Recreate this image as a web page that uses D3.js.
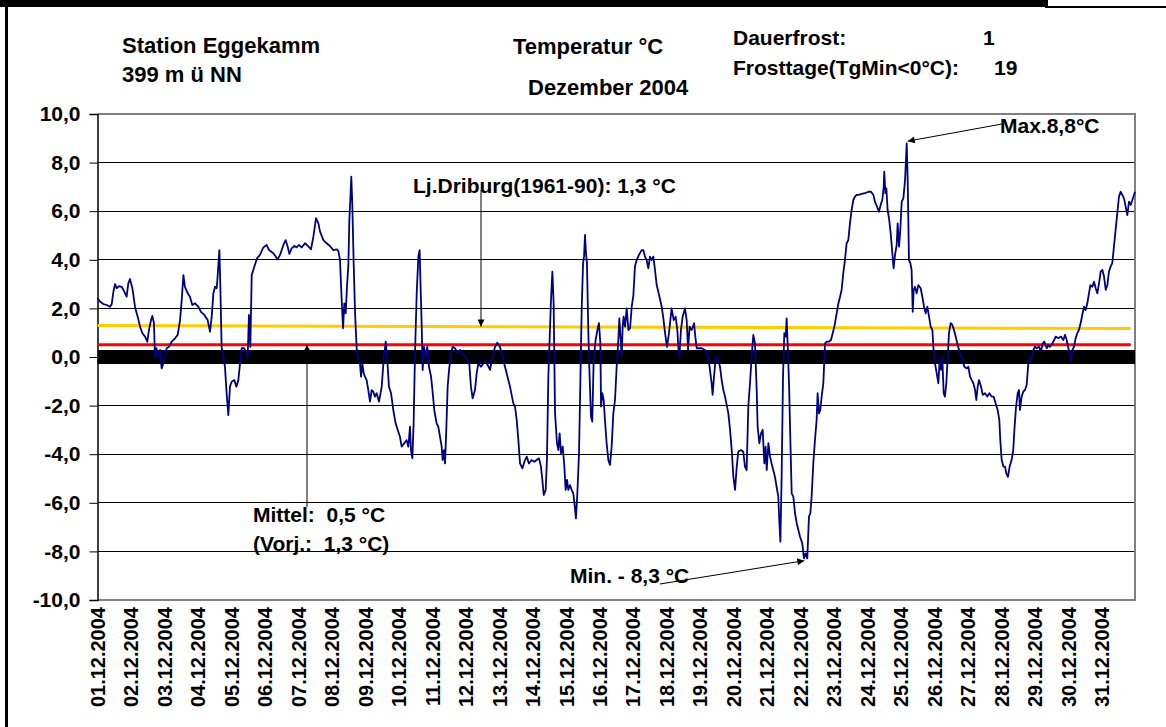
<!DOCTYPE html>
<html><head><meta charset="utf-8">
<script src="https://cdn.jsdelivr.net/npm/d3@7/dist/d3.min.js"></script>
<style>
body{margin:0;background:#fff;}
svg text{font-family:"Liberation Sans",Arial,sans-serif;font-weight:bold;fill:#000;}
</style></head><body>
<svg id="c" width="1166" height="727"></svg>
<script>
// ---------- DATA ----------
const dayLabels = ["01.12.2004","02.12.2004","03.12.2004","04.12.2004","05.12.2004","06.12.2004","07.12.2004","08.12.2004","09.12.2004","10.12.2004","11.12.2004","12.12.2004","13.12.2004","14.12.2004","15.12.2004","16.12.2004","17.12.2004","18.12.2004","19.12.2004","20.12.2004","21.12.2004","22.12.2004","23.12.2004","24.12.2004","25.12.2004","26.12.2004","27.12.2004","28.12.2004","29.12.2004","30.12.2004","31.12.2004"];
const yTicks = [-10,-8,-6,-4,-2,0,2,4,6,8,10];
const yTickLabels = ["-10,0","-8,0","-6,0","-4,0","-2,0","0,0","2,0","4,0","6,0","8,0","10,0"];
// hourly temperature trace: [hours since 01.12.2004 00:00, °C]
const tempSeries = [
[0,2.42],[1.8,2.28],[4.2,2.18],[6.6,2.14],[9.0,2.07],[10.2,2.18],[11.4,2.69],[12.6,3.0],[13.7,2.83],[15.4,2.92],[17.3,2.89],[19.2,2.69],[20.9,2.48],[22.1,3.03],[23.3,3.21],[25.0,2.83],[26.9,2.07],[28.8,1.66],[30.5,1.25],[32.2,0.98],[34.1,0.84],[35.7,0.63],[36.9,1.11],[38.4,1.52],[39.3,1.69],[40.5,1.39],[41.2,0.01],[42.2,0.36],[43.6,0],[44.8,0.29],[46.0,-0.47],[47.2,-0.26],[48.4,0],[49.6,0.36],[51.3,0.42],[53.2,0.63],[55.6,0.77],[57.5,0.91],[59.2,1.52],[60.4,2.35],[61.6,3.37],[62.7,2.89],[64.7,2.62],[66.3,2.48],[68.0,2.14],[69.9,2.21],[72.3,2.07],[74.2,1.86],[76.6,1.73],[79.0,1.52],[80.7,1.04],[81.9,1.66],[83.1,2.62],[84.3,2.89],[85.5,2.83],[86.2,3.37],[87.4,4.40],[88.1,2.89],[89.0,0.42],[90.2,0.01],[91.4,-0.40],[92.6,-1.49],[93.8,-2.39],[95.0,-1.22],[96.2,-1.02],[98.1,-0.95],[99.6,-1.22],[101.0,-0.95],[102.2,-0.26],[103.4,0.36],[105.1,0.36],[106.5,0.22],[107.7,0],[108.6,1.73],[109.6,0.42],[110.6,3.37],[112.5,3.72],[114.4,4.06],[116.5,4.20],[118.9,4.51],[121.3,4.61],[123.0,4.40],[126.1,4.27],[129.2,4.02],[130.9,4.20],[133.3,4.61],[134.9,4.81],[136.4,4.54],[137.6,4.24],[139.2,4.47],[141.2,4.57],[142.8,4.51],[144.5,4.61],[146.4,4.51],
[148.8,4.68],[151.2,4.55],[153.1,4.43],[154.8,4.95],[156.7,5.71],[158.4,5.50],[159.6,5.16],[162.0,4.81],[164.3,4.68],[166.7,4.57],[169.1,4.40],[171.5,4.43],[172.7,4.37],[173.9,3.99],[175.1,2.35],[176.1,1.18],[177.0,2.21],[178.0,1.80],[178.9,2.89],[179.9,3.79],[180.6,5.64],[181.3,6.46],[182.0,7.42],[182.7,6.33],[183.7,3.86],[184.7,1.80],[185.9,0.29],[187.0,-0.12],[188.2,-0.26],[189.0,-0.81],[189.9,-0.26],[190.9,-0.67],[191.8,-0.81],[193.0,-0.95],[194.2,-1.36],[195.4,-1.84],[196.6,-1.36],[197.8,-1.43],[199.0,-1.63],[200.2,-1.49],[201.9,-1.84],[203.8,-1.22],[205.2,-0.12],[206.7,0.63],[207.8,-0.12],[209.0,-1.22],[210.5,-1.49],[212.1,-2.18],[213.8,-2.73],[215.3,-3.00],[216.9,-3.28],[218.1,-3.69],[220.0,-3.55],[221.7,-3.42],[222.9,-3.69],[224.1,-2.87],[224.8,-3.83],[225.8,-4.17],[226.7,-2.73],[227.7,0.15],[228.9,2.62],[230.1,4.13],[231.0,4.40],[231.5,3.30],[232.5,1.25],[233.2,-0.53],[234.1,0.42],[235.3,0],[236.5,0.42],[237.7,-0.40],[239.2,-0.81],[240.4,-1.49],[241.5,-2.18],[243.2,-2.73],[244.4,-2.87],[245.6,-3.28],[246.8,-3.69],[247.5,-4.24],[248.5,-3.83],[249.2,-4.38],[250.2,-2.87],[251.1,-1.22],[252.1,-0.53],[253.5,0.15],[254.7,0.42],[256.4,0.36],[258.3,0.15],[260.0,0.29],[261.6,0.15],[263.5,0],[265.2,-0.12],[266.6,-0.26],[267.8,-1.22],[269.0,-1.70],[270.7,-1.36],[271.9,-0.67],[273.1,-0.26],[275.0,-0.40],[276.7,-0.26],[278.4,-0.19],[279.8,-0.33],[281.5,-0.53],[283.1,0],[285.1,0.42],[286.7,0.59],[288.6,0.42],[291.0,-0.12],[293.4,-0.67],[295.8,-1.22],[298.2,-1.91],
[299.4,-2.04],[300.6,-2.59],[301.8,-3.42],[303.0,-4.38],[304.7,-4.58],[306.1,-4.31],[307.8,-4.10],[309.4,-4.38],[311.3,-4.24],[313.3,-4.31],[314.9,-4.24],[316.6,-4.17],[318.0,-4.51],[319.0,-5.06],[320.0,-5.68],[321.4,-5.47],[322.3,-4.24],[323.3,-0.81],[324.3,0.84],[325.2,2.35],[326.2,3.51],[327.1,2.21],[328.1,-2.32],[329.5,-3.55],[330.5,-3.83],[331.4,-3.14],[332.4,-3.96],[333.6,-3.69],[334.8,-4.51],[335.7,-5.47],[336.7,-5.06],[337.6,-5.47],[338.8,-5.27],[340.0,-5.47],[341.2,-5.61],[342.4,-6.23],[343.1,-6.64],[344.1,-5.61],[345.3,-3.96],[346.2,-1.22],[347.2,1.93],[348.2,3.86],[348.9,4.13],[349.6,5.02],[350.3,4.27],[351.0,3.86],[352.0,0.98],[352.9,-0.81],[353.9,-2.46],[354.8,-2.66],[355.8,-0.12],[357.2,0.70],[358.7,1.18],[359.6,1.39],[360.6,0.56],[361.1,-2.04],[362.0,-1.49],[363.0,-1.77],[363.9,-2.59],[365.1,-3.55],[366.3,-4.24],[367.5,-4.44],[368.7,-3.69],[369.9,-2.32],[371.1,-1.77],[372.3,-0.40],[373.5,0.70],[374.2,1.59],[374.9,0.98],[375.9,0],[376.6,1.25],[377.3,1.66],[378.3,1.25],[379.5,2.0],[380.7,1.11],[381.9,1.18],[383.1,2.07],[384.3,2.55],[385.4,3.72],[386.6,3.99],[388.3,4.20],[390.2,4.40],[391.4,4.40],[392.6,4.13],[393.8,3.99],[395.0,3.65],[396.2,4.13],[397.4,3.99],[398.6,4.13],[399.8,3.58],[401.0,2.96],[402.7,2.55],[404.6,2.07],[405.8,1.59],[407.0,0.98],[408.4,0.42],[409.8,0.98],[410.8,1.52],[411.7,2.0],[413.2,1.52],[414.6,1.66],[415.8,1.11],[416.5,0.42],[417.2,-0.05],[418.4,1.11],[419.6,1.66],[421.3,2.0],[422.5,1.52],[423.5,0.29],[424.6,1.25],[426.1,1.11],[427.8,1.39],[428.7,0.84],[429.7,0.36],[431.3,0.36],[433.3,0.36],[435.6,0.29],[438.0,0],[439.2,-0.53],[440.4,-1.08],[441.1,-1.56],[442.1,-0.81],[443.3,-0.05],[444.7,0.01],[446.4,-0.40],[447.6,-0.95],[448.8,-1.36],[450.0,-1.63],
[452.4,-2.32],[453.6,-3.0],[454.8,-3.83],[456.0,-4.93],[457.2,-5.47],[458.4,-4.51],[459.5,-3.90],[461.5,-3.83],[463.1,-3.90],[464.3,-4.51],[465.5,-4.65],[466.7,-2.04],[467.9,-1.08],[469.1,0.01],[470.3,0.91],[471.5,0.56],[472.7,-1.36],[473.4,-2.87],[474.6,-3.55],[475.8,-3.14],[477.0,-3.0],[478.2,-4.38],[479.1,-3.69],[479.9,-4.65],[481.1,-3.55],[482.3,-4.10],[483.4,-4.38],[484.6,-4.65],[485.8,-4.93],[487.0,-5.34],[488.2,-5.75],[488.9,-6.71],[489.7,-7.60],[490.6,-4.93],[491.6,-0.81],[492.5,0.98],[493.5,0.84],[494.2,1.59],[494.9,0.56],[495.9,-1.08],[496.8,-3.28],[497.8,-5.61],[499.0,-5.75],[500.2,-6.43],[501.4,-6.84],[502.6,-7.12],[503.8,-7.40],[505.4,-7.67],[506.6,-8.29],[507.8,-8.08],[509.0,-8.29],[510.2,-6.57],[511.2,-6.43],[512.1,-5.75],[513.3,-4.38],[514.5,-3.42],[515.7,-2.59],[516.4,-1.49],[517.4,-2.32],[518.3,-2.18],[519.3,-1.63],[520.5,-1.08],[521.7,0.56],[522.9,0.63],[524.6,0.63],[526.0,0.70],[527.2,0.98],[528.4,1.25],[530.1,1.80],[531.3,2.21],[532.5,2.48],[533.6,2.76],[534.8,3.44],[536.0,3.99],[537.2,4.68],[538.4,4.81],[539.6,5.50],[540.8,6.05],[542.0,6.46],[543.2,6.60],[544.4,6.67],[545.6,6.67],[548.0,6.71],[550.4,6.74],[552.8,6.80],[554.7,6.80],[556.4,6.67],[557.5,6.39],[559.0,6.19],[560.4,5.98],[561.6,6.26],[562.8,6.46],[563.8,7.01],[564.2,7.63],[565.0,6.74],[565.7,6.94],[566.6,6.05],[567.6,5.71],[568.8,5.09],[570.0,4.27],[570.9,3.65],[571.9,4.20],[573.1,4.61],[573.8,5.50],[574.8,4.54],[575.7,5.23],[576.7,6.39],[577.9,6.53],[579.1,7.28],[580.3,8.79],[581.0,7.28],[581.9,3.99],[582.9,3.86],[583.8,3.58],[584.6,1.86],[585.3,2.76],[586.2,2.89],[587.4,2.62],[588.6,2.96],[590.3,2.83],[591.5,2.48],[592.7,2.07],[593.9,1.80],[595.1,2.07],[596.3,1.66],[597.5,1.25],[598.7,1.11],[599.4,0.42],[600.6,-0.26],
[601.8,-0.67],[603.0,-1.08],[603.9,-0.12],[604.9,-0.53],[605.8,0.01],[606.8,-1.49],[607.7,-1.63],[608.7,-1.08],[609.7,0],[610.6,0.98],[611.8,1.39],[613.0,1.32],[614.2,1.11],[615.4,0.84],[616.6,0.56],[617.8,0.29],[619.2,0],[620.4,-0.12],[621.6,-0.40],[623.3,-0.47],[624.5,-0.40],[625.7,-0.81],[626.9,-0.95],[628.1,-1.08],[629.3,-1.36],[630.2,-1.77],[631.2,-1.22],[632.1,-0.95],[633.6,-1.22],[634.8,-1.56],[636.4,-1.49],[638.1,-1.63],[639.5,-1.49],[641.2,-1.63],[642.6,-1.63],[644.1,-1.91],[645.5,-2.18],[646.7,-2.59],[647.4,-3.42],[648.4,-4.24],[649.6,-4.51],[650.8,-4.51],[651.7,-4.79],[652.9,-4.93],[654.1,-4.51],[655.5,-4.24],[656.7,-3.83],[657.5,-3.0],[658.7,-2.04],[659.9,-1.49],[660.8,-1.36],[661.5,-2.18],[662.7,-1.63],[663.9,-1.42],[665.1,-1.36],[666.3,-1.15],[667.5,-0.26],[668.7,0],[669.9,-0.07],[671.1,0.29],[672.3,0.42],[673.5,0.36],[675.2,0.42],[676.6,0.22],[677.8,0.56],[679.0,0.63],[680.7,0.36],[681.8,0.49],[683.0,0.42],[684.7,0.56],[686.1,0.70],[687.1,0.84],[689.0,0.77],[690.9,0.84],[692.6,0.70],[693.8,0.91],[695.0,0.70],[696.2,0.36],[697.4,0.08],[698.1,-0.19],[699.1,0.29],[700.3,0.42],[701.4,0.77],[702.6,0.98],[703.8,1.11],[705.0,1.39],[706.2,1.73],[707.4,2.07],[708.6,1.93],[709.8,2.21],[711.0,2.62],[712.0,2.96],[713.4,2.89],[714.6,3.10],[715.8,2.83],[717.0,2.62],[718.2,3.03],[719.4,3.51],[720.6,3.58],[721.8,3.31],[723.0,2.76],[724.2,2.96],[725.3,3.51],[726.5,3.72],[727.7,3.86],[728.9,4.54],[730.1,5.23],[731.3,5.91],[732.5,6.60],[733.7,6.80],[734.9,6.67],[736.1,6.53],[737.3,6.19],[738.5,5.84],[739.7,6.39],[740.9,6.26],[742.1,6.46],[743.3,6.67],[744.0,6.80]
];
// reference lines: [start value, end value] over the month
const zeroLine = [0, 0];
const mittelLine = [0.5, 0.5];
const driburgLine = [1.3, 1.17];
const refEndHour = 741;
const monthHours = 744;
const maxPoint = [580.3, 8.8];
const minPoint = [509.0, -8.3];

// ---------- LAYOUT ----------
const svg = d3.select("#c");
const L = 97.5, R = 1135, T = 114, B = 600;
const x = d3.scaleLinear().domain([0, monthHours]).range([L, R]);
const y = d3.scaleLinear().domain([-10, 10]).range([B, T]);

// frame
svg.append("rect").attr("x",0).attr("y",0).attr("width",1047).attr("height",7).attr("fill","#000");
svg.append("rect").attr("x",1045).attr("y",0).attr("width",3).attr("height",8).attr("fill","#000");
svg.append("line").attr("x1",1048).attr("x2",1166).attr("y1",7).attr("y2",7).attr("stroke","#000").attr("stroke-width",2);
svg.append("rect").attr("x",5).attr("y",0).attr("width",3).attr("height",727).attr("fill","#000");

// gridlines
svg.append("g").selectAll("line").data(yTicks.filter(v => v > -10 && v < 10)).join("line")
  .attr("x1",L).attr("x2",R).attr("y1",d=>y(d)).attr("y2",d=>y(d))
  .attr("stroke","#000").attr("stroke-width",1).attr("shape-rendering","crispEdges");
// plot border (grey)
svg.append("path").attr("d",`M${L},${T}H${R}V${B}H${L}`).attr("fill","none")
  .attr("stroke","#808080").attr("stroke-width",2).attr("shape-rendering","crispEdges");

// y axis
const yAxis = d3.axisLeft(y).tickValues(yTicks).tickSize(8).tickPadding(9)
  .tickFormat((d,i) => yTickLabels[i]);
const ya = svg.append("g").attr("transform",`translate(${L},0)`).call(yAxis);
ya.select(".domain").attr("stroke","#000").attr("stroke-width",1.5);
ya.selectAll(".tick line").attr("stroke","#000");
ya.selectAll(".tick text").attr("font-size","21px").attr("font-family","Liberation Sans, Arial, sans-serif").attr("font-weight","bold").attr("fill","#000");

// x labels (category every 24 h)
const xa = svg.append("g");
xa.selectAll("text").data(dayLabels).join("text")
  .attr("transform",(d,i)=>`translate(${x(i*24)+7.5},${B+7}) rotate(-90)`)
  .attr("text-anchor","end").attr("font-size","20px").text(d=>d);

// reference lines
const refLine = (vals, end, color, w) => svg.append("line")
  .attr("x1",x(0)).attr("x2",x(end)).attr("y1",y(vals[0])).attr("y2",y(vals[1]))
  .attr("stroke",color).attr("stroke-width",w);
refLine(zeroLine, monthHours, "#000", 14);
refLine(mittelLine, refEndHour, "#ff0000", 3);
refLine(driburgLine, refEndHour, "#ffcc00", 3);

// temperature line
svg.append("path").datum(tempSeries)
  .attr("d", d3.line().x(d=>x(d[0])).y(d=>y(d[1])))
  .attr("fill","none").attr("stroke","#000080").attr("stroke-width",1.8).attr("stroke-linejoin","round");

// header texts
const txt = (s, tx, ty, size) => svg.append("text").attr("x",tx).attr("y",ty)
  .attr("font-size",(size||21)+"px").style("white-space","pre").text(s);
txt("Station Eggekamm",122,53,22);
txt("399 m ü NN",122,82,22);
txt("Temperatur °C",513,54,22);
txt("Dezember 2004",528,95,22);
txt("Dauerfrost:",733,45,21);
txt("1",983,45,21);
txt("Frosttage(TgMin<0°C):",733,75,21);
txt("19",994,75,21);

// annotations
const defs = svg.append("defs");
defs.append("marker").attr("id","arr").attr("viewBox","0 0 10 10").attr("refX",10).attr("refY",5)
  .attr("markerWidth",9).attr("markerHeight",7).attr("markerUnits","userSpaceOnUse").attr("orient","auto")
  .append("path").attr("d","M0,0L10,5L0,10z").attr("fill","#000");
const arrow = (x1,y1,x2,y2) => svg.append("line").attr("x1",x1).attr("y1",y1).attr("x2",x2).attr("y2",y2)
  .attr("stroke","#000").attr("stroke-width",1).attr("marker-end","url(#arr)");

txt("Lj.Driburg(1961-90): 1,3 °C",413,193,21);
arrow(481,190,481,y(driburgLine[0]+(driburgLine[1]-driburgLine[0])*(x.invert(481)/refEndHour)));
txt("Mittel:  0,5 °C",253,522,21);
txt("(Vorj.:  1,3 °C)",253,551,21);
arrow(307,507,307,y(mittelLine[0]));
txt("Min. - 8,3 °C",570,583,21);
arrow(660,584,x(minPoint[0])-3,y(minPoint[1])+2);
txt("Max.8,8°C",1000,133,21);
arrow(1002,124,x(maxPoint[0])+1,y(maxPoint[1])-2);
</script></body></html>
